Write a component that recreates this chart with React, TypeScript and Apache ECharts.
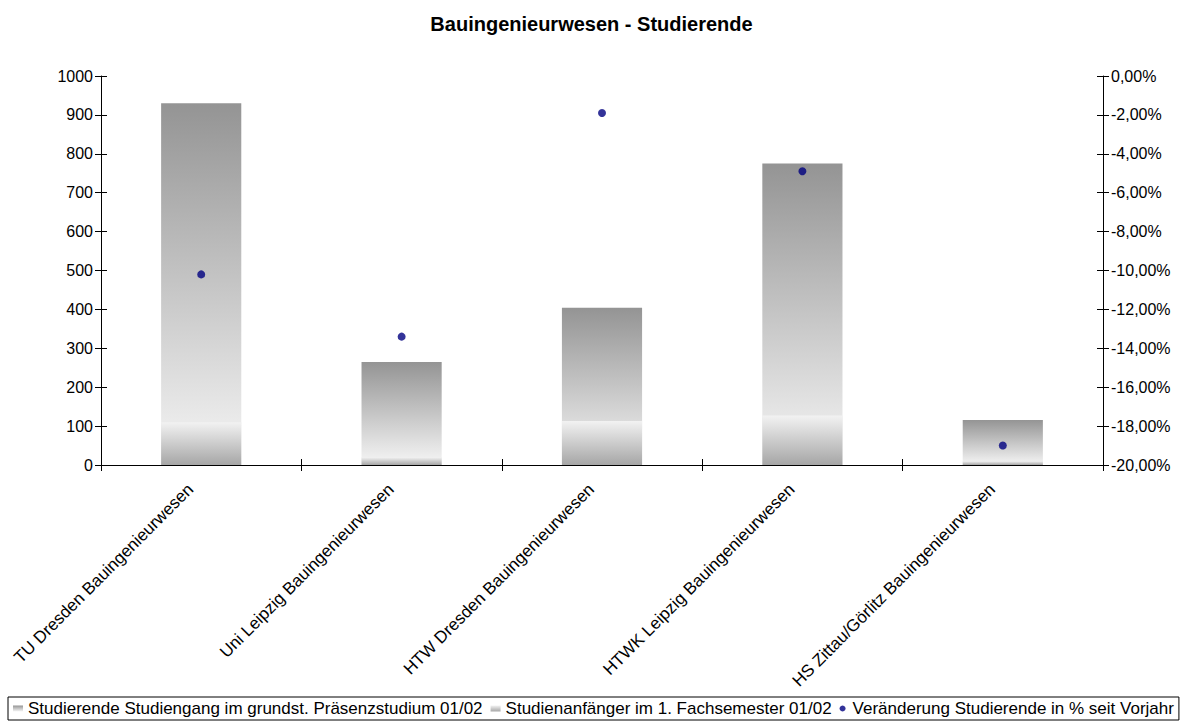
import React, { useEffect, useRef } from "react";
import * as echarts from "echarts";

const categories = [
  "TU Dresden Bauingenieurwesen",
  "Uni Leipzig Bauingenieurwesen",
  "HTW Dresden Bauingenieurwesen",
  "HTWK Leipzig Bauingenieurwesen",
  "HS Zittau/Görlitz Bauingenieurwesen",
];
const studierende = [930, 265, 404, 775, 116];
const anfaenger = [110, 20, 113, 127, 10];
const veraenderung = [-10.2, -13.4, -1.9, -4.9, -19.0];

const seriesNames = [
  "Studierende Studiengang im grundst. Präsenzstudium 01/02",
  "Studienanfänger im 1. Fachsemester 01/02",
  "Veränderung Studierende in % seit Vorjahr",
];

const FONT = "Liberation Sans, Arial, sans-serif";

export default function App() {
  const ref = useRef<HTMLDivElement>(null);
  useEffect(() => {
    const chart = echarts.init(ref.current!, null, { renderer: "svg" });
    const axisLine = { show: true, lineStyle: { color: "#000", width: 1 } };
    const tick = (inside: boolean) => ({
      show: true,
      inside,
      length: 6,
      interval: 0,
      lineStyle: { color: "#000" },
    });
    const pctFmt = (v: number) => v.toFixed(2).replace(".", ",") + "%";
    const gridBox = { left: 101, right: 80, top: 76, bottom: 257 };
    chart.setOption({
      animation: false,
      backgroundColor: "#fff",
      title: {
        text: "Bauingenieurwesen - Studierende",
        left: "center",
        top: 9,
        textStyle: { fontFamily: FONT, fontSize: 20, fontWeight: "bold", color: "#000" },
      },
      grid: [gridBox, gridBox],
      legend: {
        bottom: 2,
        left: 8,
        padding: [3, 5],
        borderColor: "#000",
        borderWidth: 1,
        itemGap: 8,
        itemWidth: 10,
        itemHeight: 6,
        textStyle: { fontFamily: FONT, fontSize: 17, color: "#000" },
        data: [
          { name: seriesNames[0], icon: "rect" },
          { name: seriesNames[1], icon: "rect" },
          { name: seriesNames[2], icon: "circle" },
        ],
      },
      xAxis: [
        {
          type: "category",
          gridIndex: 0,
          data: categories,
          axisLine,
          axisTick: tick(false),
          axisLabel: {
            rotate: 45,
            interval: 0,
            margin: 11,
            padding: [0, 15, 0, 0],
            fontFamily: FONT,
            fontSize: 17,
            color: "#000",
          },
          splitLine: { show: false },
        },
        {
          type: "category",
          gridIndex: 1,
          data: categories,
          position: "bottom",
          axisLine: { show: false },
          axisTick: tick(true),
          axisLabel: { show: false },
          splitLine: { show: false },
        },
      ],
      yAxis: [
        {
          type: "value",
          gridIndex: 0,
          position: "left",
          min: 0,
          max: 1000,
          interval: 100,
          axisLine,
          axisTick: tick(false),
          axisLabel: {
            fontFamily: FONT,
            fontSize: 16,
            color: "#000",
            margin: 8,
            formatter: (v: number) => String(v),
          },
          splitLine: { show: false },
        },
        {
          type: "value",
          gridIndex: 0,
          position: "right",
          min: -20,
          max: 0,
          interval: 2,
          axisLine,
          axisTick: tick(false),
          axisLabel: { fontFamily: FONT, fontSize: 16, color: "#000", margin: 8, formatter: pctFmt },
          splitLine: { show: false },
        },
        {
          type: "value",
          gridIndex: 1,
          position: "left",
          min: 0,
          max: 1000,
          interval: 100,
          axisLine: { show: false },
          axisTick: tick(true),
          axisLabel: { show: false },
          splitLine: { show: false },
        },
        {
          type: "value",
          gridIndex: 1,
          position: "right",
          min: -20,
          max: 0,
          interval: 2,
          axisLine: { show: false },
          axisTick: tick(true),
          axisLabel: { show: false },
          splitLine: { show: false },
        },
      ],
      series: [
        {
          name: seriesNames[0],
          type: "bar",
          xAxisIndex: 0,
          yAxisIndex: 0,
          data: studierende,
          barWidth: "40%",
          barGap: "-100%",
          itemStyle: {
            color: new echarts.graphic.LinearGradient(0, 0, 0, 1, [
              { offset: 0, color: "#949494" },
              { offset: 1, color: "#f6f6f6" },
            ]),
          },
        },
        {
          name: seriesNames[1],
          type: "bar",
          xAxisIndex: 0,
          yAxisIndex: 0,
          data: anfaenger,
          barWidth: "40%",
          barGap: "-100%",
          itemStyle: {
            color: new echarts.graphic.LinearGradient(0, 0, 0, 1, [
              { offset: 0, color: "#f2f2f2" },
              { offset: 1, color: "#a6a6a6" },
            ]),
          },
        },
        {
          name: seriesNames[2],
          type: "scatter",
          xAxisIndex: 0,
          yAxisIndex: 1,
          data: veraenderung,
          symbol: "circle",
          symbolSize: 8,
          itemStyle: { color: "#000080" },
        },
      ],
    });
    return () => chart.dispose();
  }, []);
  return <div ref={ref} style={{ width: 1183, height: 722, position: "absolute", left: 0, top: 0 }} />;
}
